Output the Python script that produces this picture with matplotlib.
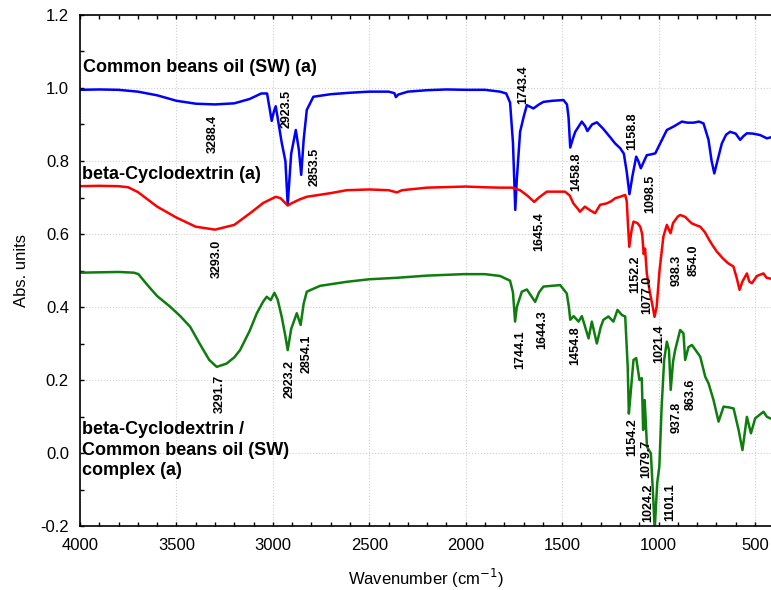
import numpy as np
import matplotlib
matplotlib.use('Agg')
import matplotlib.pyplot as plt
from matplotlib.ticker import MultipleLocator

plt.rcParams['font.family'] = ['Liberation Sans', 'DejaVu Sans']

# Common beans oil (SW)
wn_oil = [4000, 3900, 3800, 3700, 3600, 3500, 3400, 3300, 3200, 3120, 3060, 3030, 3006, 2995, 2985,
          2954, 2935, 2923, 2905, 2881, 2865, 2853, 2840, 2824, 2790, 2700, 2600, 2500, 2400, 2370,
          2362, 2350, 2300, 2200, 2100, 2000, 1900, 1822, 1790, 1770, 1755, 1743, 1735, 1718, 1700,
          1683, 1649, 1620, 1597, 1550, 1493, 1475, 1467, 1458, 1445, 1432, 1398, 1380, 1369, 1345,
          1320, 1290, 1260, 1225, 1199, 1180, 1165, 1151, 1135, 1116, 1105, 1092, 1075, 1061, 1040,
          1017, 990, 957, 920, 879, 850, 819, 790, 767, 741, 725, 711, 695, 672, 650,
          629, 600, 577, 560, 542, 510, 473, 438, 417]
abs_oil = [0.995, 0.996, 0.995, 0.99, 0.98, 0.965, 0.957, 0.955, 0.958, 0.97, 0.985, 0.985, 0.91, 0.935, 0.95,
           0.85, 0.80, 0.68, 0.82, 0.885, 0.83, 0.762, 0.86, 0.94, 0.976, 0.983, 0.987, 0.99, 0.99, 0.986,
           0.975, 0.982, 0.99, 0.994, 0.996, 0.995, 0.995, 0.99, 0.985, 0.96, 0.85, 0.666, 0.75, 0.88, 0.92,
           0.953, 0.944, 0.955, 0.962, 0.965, 0.967, 0.955, 0.921, 0.837, 0.86, 0.88, 0.908, 0.895, 0.882, 0.9,
           0.906, 0.89, 0.871, 0.848, 0.835, 0.82, 0.77, 0.709, 0.76, 0.812, 0.80, 0.78, 0.80, 0.816, 0.818,
           0.821, 0.85, 0.885, 0.895, 0.908, 0.905, 0.905, 0.908, 0.903, 0.858, 0.80, 0.766, 0.80, 0.848, 0.872,
           0.88, 0.875, 0.858, 0.868, 0.876, 0.875, 0.871, 0.862, 0.865]

# beta-Cyclodextrin
wn_bcd = [4000, 3900, 3800, 3750, 3700, 3650, 3600, 3500, 3400, 3300, 3200, 3118, 3050, 2985, 2960,
          2923, 2900, 2860, 2824, 2700, 2617, 2500, 2400, 2357, 2330, 2200, 2000, 1900, 1822, 1760,
          1718, 1680, 1645, 1620, 1580, 1485, 1460, 1442, 1420, 1408, 1382, 1355, 1329, 1303, 1268,
          1245, 1225, 1200, 1173, 1165, 1158, 1152, 1140, 1130, 1110, 1095, 1085, 1077, 1070, 1061,
          1045, 1030, 1021, 1010, 995, 975, 957, 945, 938, 925, 900, 888, 862, 840, 827,
          800, 784, 760, 732, 715, 698, 670, 640, 612, 595, 580, 565, 542, 530, 516,
          490, 456, 440, 421]
abs_bcd = [0.731, 0.732, 0.731, 0.728, 0.715, 0.695, 0.675, 0.645, 0.62, 0.612, 0.625, 0.657, 0.685, 0.702, 0.698,
           0.678, 0.685, 0.695, 0.702, 0.712, 0.72, 0.722, 0.72, 0.714, 0.72, 0.727, 0.73, 0.728, 0.727, 0.727,
           0.72, 0.705, 0.688, 0.70, 0.716, 0.716, 0.705, 0.684, 0.67, 0.661, 0.675, 0.665, 0.657, 0.68, 0.684,
           0.69, 0.698, 0.702, 0.707, 0.69, 0.62, 0.565, 0.61, 0.634, 0.63, 0.62, 0.60, 0.545, 0.56, 0.492,
           0.44, 0.40, 0.373, 0.40, 0.50, 0.593, 0.625, 0.61, 0.602, 0.63, 0.648, 0.652, 0.647, 0.635, 0.629,
           0.623, 0.62, 0.605, 0.579, 0.565, 0.552, 0.535, 0.52, 0.511, 0.48, 0.447, 0.47, 0.492, 0.47, 0.465,
           0.485, 0.492, 0.48, 0.478]

# beta-Cyclodextrin / Common beans oil (SW) complex
wn_cpx = [4000, 3900, 3800, 3720, 3697, 3650, 3600, 3533, 3480, 3429, 3380, 3330, 3291, 3240, 3200,
          3170, 3120, 3083, 3050, 3032, 3011, 2992, 2975, 2954, 2935, 2923, 2905, 2876, 2856, 2840,
          2824, 2755, 2617, 2500, 2357, 2200, 2012, 1900, 1822, 1770, 1755, 1744, 1735, 1709, 1683,
          1660, 1640, 1620, 1597, 1510, 1476, 1465, 1458, 1440, 1415, 1398, 1389, 1363, 1346, 1320,
          1300, 1286, 1260, 1234, 1213, 1190, 1173, 1160, 1154, 1147, 1130, 1116, 1099, 1087, 1080,
          1072, 1060, 1040, 1028, 1020, 1007, 996, 984, 971, 957, 946, 937, 925, 914, 888,
          871, 862, 845, 827, 784, 758, 741, 715, 689, 663, 635, 611, 585, 565, 542,
          521, 499, 456, 438, 421]
abs_cpx = [0.494, 0.495, 0.496, 0.494, 0.49, 0.46, 0.43, 0.401, 0.375, 0.346, 0.30, 0.255, 0.236, 0.245, 0.262,
           0.282, 0.335, 0.383, 0.415, 0.428, 0.419, 0.439, 0.42, 0.373, 0.32, 0.282, 0.34, 0.383, 0.351, 0.41,
           0.442, 0.458, 0.469, 0.476, 0.48, 0.486, 0.49, 0.49, 0.485, 0.472, 0.44, 0.36, 0.40, 0.442, 0.448,
           0.43, 0.414, 0.44, 0.456, 0.46, 0.437, 0.40, 0.365, 0.375, 0.36, 0.375, 0.36, 0.314, 0.36, 0.30,
           0.345, 0.365, 0.374, 0.36, 0.392, 0.378, 0.374, 0.236, 0.108, 0.15, 0.255, 0.26, 0.2, 0.205, 0.063,
           0.145, 0.017, -0.001, -0.12, -0.21, -0.082, -0.037, 0.127, 0.255, 0.305, 0.282, 0.173, 0.25, 0.282, 0.337,
           0.328, 0.255, 0.29, 0.296, 0.264, 0.209, 0.191, 0.145, 0.086, 0.127, 0.125, 0.122, 0.063, 0.008, 0.099,
           0.054, 0.095, 0.113, 0.099, 0.095]

# peak annotations: (text, wavenumber position, top of text)
peaks_oil = [("3288.4", 3310, 0.926), ("2923.5", 2928, 0.995), ("2853.5", 2781, 0.836),
             ("1743.4", 1700, 1.063), ("1458.8", 1427, 0.822), ("1158.8", 1138, 0.934),
             ("1098.5", 1043, 0.762)]
peaks_bcd = [("3293.0", 3290, 0.583), ("1645.4", 1617, 0.660), ("1152.2", 1121, 0.542),
             ("1077.0", 1061, 0.485), ("1021.4", 995, 0.351), ("938.3", 906, 0.542),
             ("854.0", 819, 0.570)]
peaks_cpx = [("3291.7", 3274, 0.214), ("2923.2", 2911, 0.255), ("2854.1", 2824, 0.323),
             ("1744.1", 1718, 0.337), ("1644.3", 1605, 0.392), ("1454.8", 1432, 0.346),
             ("1154.2", 1138, 0.096), ("1079.7", 1066, 0.036), ("1024.2", 1053, -0.083),
             ("1101.1", 940, -0.083), ("937.8", 906, 0.140), ("863.6", 836, 0.205)]

fig = plt.figure(figsize=(7.71, 5.90), dpi=100)
ax = fig.add_axes([80/771, 64/590, 691/771, 511/590])

ax.plot(wn_oil, abs_oil, color='#0000ff', lw=1.8)
ax.plot(wn_bcd, abs_bcd, color='#ff0000', lw=1.8)
ax.plot(wn_cpx, abs_cpx, color='#0e7d0e', lw=1.8)

ax.set_xlim(4000, 417)
ax.set_ylim(-0.2, 1.2)
ax.xaxis.set_major_locator(MultipleLocator(500))
ax.xaxis.set_minor_locator(MultipleLocator(100))
ax.yaxis.set_major_locator(MultipleLocator(0.2))
ax.yaxis.set_minor_locator(MultipleLocator(0.1))
ax.yaxis.set_major_formatter(matplotlib.ticker.FormatStrFormatter('%.1f'))
ax.tick_params(which='both', direction='in', top=True, right=False, labelsize=12, length=3, width=1)
ax.tick_params(axis='x', pad=9)
ax.tick_params(axis='y', pad=8)
ax.grid(True, which='major', color='#cfcfcf', ls=':', lw=0.8)
ax.spines['right'].set_visible(False)
for s in ['left', 'bottom', 'top']:
    ax.spines[s].set_linewidth(1.2)

ax.set_xlabel("Wavenumber (cm$^{-1}$)", fontsize=12, labelpad=10)
ax.set_ylabel("Abs. units", fontsize=12, labelpad=8)

ax.text(3982, 1.055, "Common beans oil (SW) (a)", fontsize=13, fontweight='bold', va='center', ha='left')
ax.text(3990, 0.762, "beta-Cyclodextrin (a)", fontsize=13, fontweight='bold', va='center', ha='left')
ax.text(3990, 0.008, "beta-Cyclodextrin /\nCommon beans oil (SW)\ncomplex (a)", fontsize=13,
        fontweight='bold', va='center', ha='left', linespacing=1.3)

for lbl, x, y in peaks_oil + peaks_bcd + peaks_cpx:
    ax.text(x, y, lbl, rotation=90, fontsize=9, fontweight='bold', ha='center', va='top')

fig.savefig('out.png', dpi=100)
